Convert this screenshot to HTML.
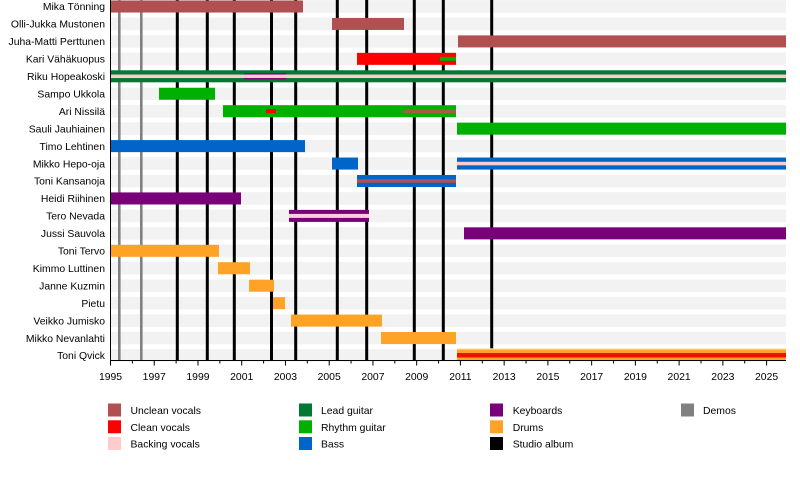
<!DOCTYPE html>
<html><head><meta charset="utf-8"><style>
html,body{margin:0;padding:0;background:#fff;}
svg{display:block;}
text{font-family:"Liberation Sans",Arial,sans-serif;font-size:10.4px;fill:#000;}
</style></head><body>
<svg width="800" height="500" viewBox="0 0 800 500" xmlns="http://www.w3.org/2000/svg">
<!-- background bands -->
<g fill="#f2f2f2">
<rect x="110" y="0.2" width="676" height="12.6"/>
<rect x="110" y="17.65" width="676" height="12.6"/>
<rect x="110" y="35.1" width="676" height="12.6"/>
<rect x="110" y="52.55" width="676" height="12.6"/>
<rect x="110" y="70" width="676" height="12.6"/>
<rect x="110" y="87.45" width="676" height="12.6"/>
<rect x="110" y="104.9" width="676" height="12.6"/>
<rect x="110" y="122.35" width="676" height="12.6"/>
<rect x="110" y="139.8" width="676" height="12.6"/>
<rect x="110" y="157.25" width="676" height="12.6"/>
<rect x="110" y="174.7" width="676" height="12.6"/>
<rect x="110" y="192.15" width="676" height="12.6"/>
<rect x="110" y="209.6" width="676" height="12.6"/>
<rect x="110" y="227.05" width="676" height="12.6"/>
<rect x="110" y="244.5" width="676" height="12.6"/>
<rect x="110" y="261.95" width="676" height="12.6"/>
<rect x="110" y="279.4" width="676" height="12.6"/>
<rect x="110" y="296.85" width="676" height="12.6"/>
<rect x="110" y="314.3" width="676" height="12.6"/>
<rect x="110" y="331.75" width="676" height="12.6"/>
<rect x="110" y="349.2" width="676" height="12.6"/>
</g>
<!-- demo lines -->
<g stroke="#808080" stroke-width="2.6">
<line x1="119.3" y1="0" x2="119.3" y2="360.5"/>
<line x1="141.3" y1="0" x2="141.3" y2="360.5"/>
</g>
<!-- studio album lines -->
<g stroke="#000" stroke-width="3">
<line x1="177.3" y1="0" x2="177.3" y2="360.5"/>
<line x1="207.3" y1="0" x2="207.3" y2="360.5"/>
<line x1="234.3" y1="0" x2="234.3" y2="360.5"/>
<line x1="271.5" y1="0" x2="271.5" y2="360.5"/>
<line x1="295.7" y1="0" x2="295.7" y2="360.5"/>
<line x1="337.3" y1="0" x2="337.3" y2="360.5"/>
<line x1="366.7" y1="0" x2="366.7" y2="360.5"/>
<line x1="414.3" y1="0" x2="414.3" y2="360.5"/>
<line x1="443.3" y1="0" x2="443.3" y2="360.5"/>
<line x1="491.7" y1="0" x2="491.7" y2="360.5"/>
</g>
<!-- bars -->
<!-- Mika -->
<rect x="110" y="0.5" width="193" height="12" fill="#b05050"/>
<!-- Olli -->
<rect x="332" y="17.95" width="72" height="12" fill="#b05050"/>
<!-- Juha-Matti -->
<rect x="458" y="35.4" width="328" height="12" fill="#b05050"/>
<!-- Kari -->
<rect x="357" y="52.85" width="99" height="12" fill="#ff0000"/>
<rect x="440" y="56.85" width="16" height="4" fill="#00b000"/>
<!-- Riku -->
<rect x="110" y="70.3" width="676" height="12" fill="#007a33"/>
<rect x="244" y="73.3" width="42" height="6" fill="#780078"/>
<rect x="110" y="74.55" width="676" height="3.5" fill="#ffcccc"/>
<!-- Sampo -->
<rect x="159" y="87.75" width="56" height="12" fill="#00b000"/>
<!-- Ari -->
<rect x="223" y="105.2" width="233" height="12" fill="#00b000"/>
<rect x="266" y="109.2" width="10" height="4" fill="#ff0000"/>
<rect x="403" y="109.2" width="53" height="4" fill="#a0603f"/>
<!-- Sauli -->
<rect x="457" y="122.65" width="329" height="12" fill="#00b000"/>
<!-- Timo -->
<rect x="110" y="140.1" width="195" height="12" fill="#0064c8"/>
<!-- Mikko Hepo-oja -->
<rect x="332" y="157.55" width="26" height="12" fill="#0064c8"/>
<rect x="457" y="157.55" width="329" height="12" fill="#0064c8"/>
<rect x="457" y="161.8" width="329" height="3.5" fill="#ffcccc"/>
<!-- Toni Kansanoja -->
<rect x="357" y="175" width="99" height="12" fill="#0064c8"/>
<rect x="357" y="179.25" width="99" height="3.5" fill="#b05050"/>
<!-- Heidi -->
<rect x="110" y="192.45" width="131" height="12" fill="#780078"/>
<!-- Tero -->
<rect x="289" y="209.9" width="80" height="12" fill="#780078"/>
<rect x="289" y="213.9" width="80" height="4" fill="#ffccdd"/>
<!-- Jussi -->
<rect x="464" y="227.35" width="322" height="12" fill="#780078"/>
<!-- Toni Tervo -->
<rect x="110" y="244.8" width="109" height="12" fill="#ffa326"/>
<!-- Kimmo -->
<rect x="218" y="262.25" width="32" height="12" fill="#ffa326"/>
<!-- Janne -->
<rect x="249" y="279.7" width="25" height="12" fill="#ffa326"/>
<!-- Pietu -->
<rect x="273" y="297.15" width="12" height="12" fill="#ffa326"/>
<!-- Veikko -->
<rect x="291" y="314.6" width="91" height="12" fill="#ffa326"/>
<!-- Mikko Nevanlahti -->
<rect x="381" y="332.05" width="75" height="12" fill="#ffa326"/>
<!-- Toni Qvick -->
<rect x="457" y="348.3" width="329" height="1.2" fill="#ffe4b0"/>
<rect x="457" y="349.5" width="329" height="11.5" fill="#ffa326"/>
<rect x="457" y="353" width="329" height="4.5" fill="#ee1100"/>

<!-- axes -->
<line x1="110.5" y1="0" x2="110.5" y2="361" stroke="#000" stroke-width="1"/>
<line x1="110" y1="360.5" x2="786" y2="360.5" stroke="#000" stroke-width="1"/>
<path stroke="#000" stroke-width="1" fill="none" d="
M110.5 360.5v5 M132.37 360.5v3 M154.24 360.5v5 M176.11 360.5v3 M197.98 360.5v5 M219.85 360.5v3
M241.72 360.5v5 M263.59 360.5v3 M285.46 360.5v5 M307.33 360.5v3 M329.2 360.5v5 M351.07 360.5v3
M372.94 360.5v5 M394.81 360.5v3 M416.68 360.5v5 M438.55 360.5v3 M460.42 360.5v5 M482.29 360.5v3
M504.16 360.5v5 M526.03 360.5v3 M547.9 360.5v5 M569.77 360.5v3 M591.64 360.5v5 M613.51 360.5v3
M635.38 360.5v5 M657.25 360.5v3 M679.12 360.5v5 M700.99 360.5v3 M722.86 360.5v5 M744.73 360.5v3
M766.6 360.5v5"/>
<g text-anchor="middle">
<text x="110.5" y="380">1995</text>
<text x="154.24" y="380">1997</text>
<text x="197.98" y="380">1999</text>
<text x="241.72" y="380">2001</text>
<text x="285.46" y="380">2003</text>
<text x="329.2" y="380">2005</text>
<text x="372.94" y="380">2007</text>
<text x="416.68" y="380">2009</text>
<text x="460.42" y="380">2011</text>
<text x="504.16" y="380">2013</text>
<text x="547.9" y="380">2015</text>
<text x="591.64" y="380">2017</text>
<text x="635.38" y="380">2019</text>
<text x="679.12" y="380">2021</text>
<text x="722.86" y="380">2023</text>
<text x="766.6" y="380">2025</text>
</g>

<!-- row labels -->
<g text-anchor="end">
<text x="105" y="10.2">Mika Tönning</text>
<text x="105" y="27.65">Olli-Jukka Mustonen</text>
<text x="105" y="45.1">Juha-Matti Perttunen</text>
<text x="105" y="62.55">Kari Vähäkuopus</text>
<text x="105" y="80">Riku Hopeakoski</text>
<text x="105" y="97.45">Sampo Ukkola</text>
<text x="105" y="114.9">Ari Nissilä</text>
<text x="105" y="132.35">Sauli Jauhiainen</text>
<text x="105" y="149.8">Timo Lehtinen</text>
<text x="105" y="167.25">Mikko Hepo-oja</text>
<text x="105" y="184.7">Toni Kansanoja</text>
<text x="105" y="202.15">Heidi Riihinen</text>
<text x="105" y="219.6">Tero Nevada</text>
<text x="105" y="237.05">Jussi Sauvola</text>
<text x="105" y="254.5">Toni Tervo</text>
<text x="105" y="271.95">Kimmo Luttinen</text>
<text x="105" y="289.4">Janne Kuzmin</text>
<text x="105" y="306.85">Pietu</text>
<text x="105" y="324.3">Veikko Jumisko</text>
<text x="105" y="341.75">Mikko Nevanlahti</text>
<text x="105" y="359.2">Toni Qvick</text>
</g>

<!-- legend -->
<rect x="108" y="403.5" width="13" height="13" fill="#b05050"/>
<rect x="108" y="420.3" width="13" height="13" fill="#ff0000"/>
<rect x="108" y="437" width="13" height="13" fill="#ffcccc"/>
<text x="130.5" y="414">Unclean vocals</text>
<text x="130.5" y="430.8">Clean vocals</text>
<text x="130.5" y="447.5">Backing vocals</text>

<rect x="299" y="403.5" width="13" height="13" fill="#007a33"/>
<rect x="299" y="420.3" width="13" height="13" fill="#00b000"/>
<rect x="299" y="437" width="13" height="13" fill="#0064c8"/>
<text x="321" y="414">Lead guitar</text>
<text x="321" y="430.8">Rhythm guitar</text>
<text x="321" y="447.5">Bass</text>

<rect x="490" y="403.5" width="13" height="13" fill="#780078"/>
<rect x="490" y="420.3" width="13" height="13" fill="#ffa326"/>
<rect x="490" y="437" width="13" height="13" fill="#000"/>
<text x="512.7" y="414">Keyboards</text>
<text x="512.7" y="430.8">Drums</text>
<text x="512.7" y="447.5">Studio album</text>

<rect x="681" y="403.5" width="13" height="13" fill="#808080"/>
<text x="703" y="414">Demos</text>
</svg>
</body></html>
